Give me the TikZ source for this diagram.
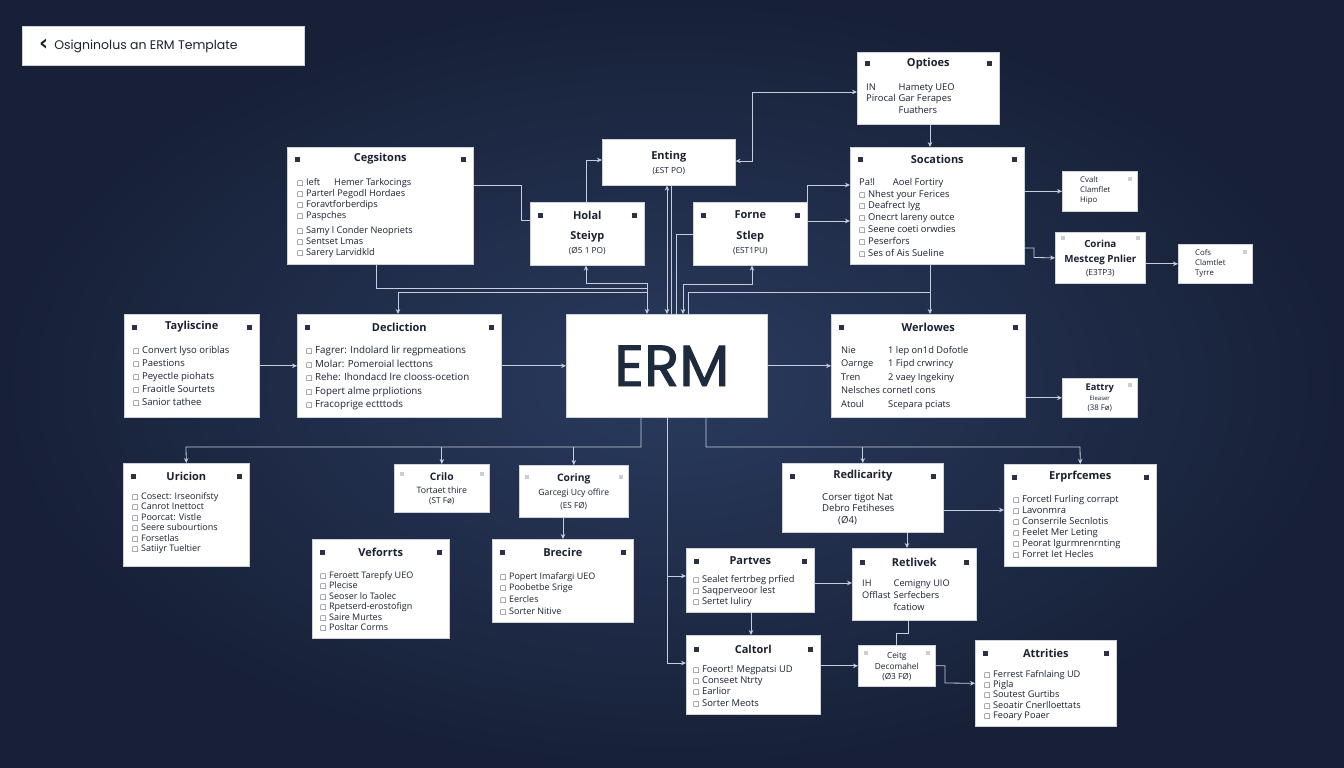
\documentclass[tikz,border=0pt]{standalone}
\usepackage{fontspec}
\setmainfont{Open Sans}
\newfontfamily\hdfont{Poppins}
\newfontfamily\ermfont[FakeBold=1.5]{Poppins}
\newfontfamily\symfont{DejaVu Sans}
\usetikzlibrary{arrows.meta,calc}
\definecolor{bgin}{HTML}{2A3B5E}
\definecolor{bgout}{HTML}{172037}
\definecolor{boxline}{HTML}{CDD2DB}
\definecolor{ink}{HTML}{1B2131}
\definecolor{ermink}{HTML}{1E2A3E}
\definecolor{lnc}{HTML}{C6CEDB}
\definecolor{dsqc}{HTML}{2B3142}
\definecolor{lsqc}{HTML}{C9CDD5}
\newcommand\cbx{{\symfont\fontsize{6.8}{6.8}\selectfont □}\hspace{2.5pt}}
\newcommand\mybx[5]{\node[box, minimum width=#4, minimum height=#5] (#1) at (#2,#3) {};}
\newcommand\myttl[3]{\node[ttlst] (#1t) at ($(#1.north)+(0,#2)$) {#3};}
\newcommand\mydsq[2]{\fill[dsqc] ($(#1.north west)+(8,#2-2.5)$) rectangle +(5,5); \fill[dsqc] ($(#1.north east)+(-13,#2-2.5)$) rectangle +(5,5);}
\newcommand\mylsqr[2]{\fill[lsqc] ($(#1.north east)+(-10,#2-2)$) rectangle +(4,4);}
\newcommand\mylsql[2]{\fill[lsqc] ($(#1.north west)+(6,#2-2)$) rectangle +(4,4);}
\newcommand\mylst[6]{\node[lstst, font=\fontsize{#4}{#5}\selectfont] (#1l) at ($(#1.north west)+(#2,#3-5)$) {#6};}
\newcommand\mytxt[5]{\node[font=#4, text=ink, inner sep=0pt] (#1#2) at ($(#1.north)+(0,#3)$) {#5};}
\begin{document}
\begin{tikzpicture}[x=1pt,y=-1pt,
  box/.style={draw=boxline, fill=white, line width=0.6pt, inner sep=0pt, anchor=north west},
  ttlst/.style={font=\fontsize{11}{13}\selectfont\bfseries, text=ink, inner sep=0pt},
  lstst/.style={text=ink, align=left, anchor=north west, inner sep=0pt},
  con/.style={draw=lnc, line width=0.8pt},
  arr/.style={con, -{Stealth[length=5pt,width=4.5pt]}},
  arr2/.style={con, {Stealth[length=5pt,width=4.5pt]}-{Stealth[length=5pt,width=4.5pt]}}]
\useasboundingbox (0,0) rectangle (1344,768);
\shade[inner color=bgin, outer color=bgout] (0,0) rectangle (1344,768);

% header
\mybx{hdr}{22}{26}{282}{39}
\node[font=\hdfont\fontsize{12.5}{14}\selectfont, text=ink, anchor=west, inner sep=0pt] (hdrt) at ($(hdr.west)+(17,0)$) {{\symfont\bfseries\fontsize{22}{22}\selectfont\raisebox{-0.5pt}{‹}}\hspace{6pt}Osigninolus an ERM Template};

% boxes
\mybx{ceg}{287}{147}{186}{117}
\mybx{ent}{602}{139}{133}{46}
\mybx{hol}{530}{202}{114}{63}
\mybx{frn}{693}{202}{114}{63}
\mybx{opt}{857}{52}{142}{72}
\mybx{soc}{850}{147}{174}{117}
\mybx{cva}{1062}{171}{75}{40}
\mybx{cor}{1055}{232}{90}{51}
\mybx{cof}{1178}{244}{74}{39}
\mybx{tay}{124}{314}{135}{103}
\mybx{dec}{297}{314}{204}{103}
\mybx{erm}{566}{314}{201}{103}
\mybx{wer}{831}{314}{194}{103}
\mybx{eat}{1062}{378}{75}{39}
\mybx{uri}{123}{463}{126}{103}
\mybx{cri}{394}{464}{95}{48}
\mybx{crg}{519}{465}{109}{52}
\mybx{vef}{312}{539}{137}{99}
\mybx{bre}{492}{539}{141}{83}
\mybx{red}{782}{463}{161}{69}
\mybx{erp}{1004}{464}{152}{102}
\mybx{par}{686}{548}{128}{64}
\mybx{ret}{852}{548}{124}{72}
\mybx{cal}{686}{635}{134}{79}
\mybx{cer}{858}{645}{77}{41}
\mybx{att}{975}{640}{141}{86}

% titled boxes
\myttl{ceg}{12}{Cegsitons}\mydsq{ceg}{12}
\mylst{ceg}{10}{36}{9.2}{11}{\cbx Ieft\hspace{14pt}Hemer Tarkocings\\ \cbx Parterl Pegodl Hordaes\\ \cbx Foravtforberdips\\ \cbx Paspches\\[4pt] \cbx Samy l Conder Neopriets\\ \cbx Sentset Lmas\\ \cbx Sarery Larvidkld}

\myttl{opt}{12}{Optioes}\mydsq{opt}{12}
\mylst{opt}{9}{35}{9.4}{11.5}{\begin{tabular}{@{}l@{\hspace{3pt}}l@{}}IN & Hamety UEO\\ Pirocal & Gar Ferapes\\ & Fuathers\end{tabular}}

\myttl{soc}{12}{Socations}\mydsq{soc}{12}
\mylst{soc}{9}{36}{9.4}{11.8}{Pa!l\hspace{18pt}Aoel Fortiry\\ \cbx Nhest your Ferices\\ \cbx Deafrect Iyg\\ \cbx Onecrt lareny outce\\ \cbx Seene coeti orwdies\\ \cbx Peserfors\\ \cbx Ses of Ais Sueline}

\myttl{hol}{13}{Holal}\mydsq{hol}{13}
\mytxt{hol}{a}{35}{\fontsize{11}{13}\selectfont\bfseries}{Steiyp}
\mytxt{hol}{b}{49}{\fontsize{8.3}{10}\selectfont}{(Ø5 1 PO)}

\myttl{frn}{13}{Forne}\mydsq{frn}{13}
\mytxt{frn}{a}{35}{\fontsize{11}{13}\selectfont\bfseries}{Stlep}
\mytxt{frn}{b}{49}{\fontsize{8.3}{10}\selectfont}{(EST1PU)}

\mytxt{ent}{a}{18}{\fontsize{11}{13}\selectfont\bfseries}{Enting}
\mytxt{ent}{b}{32}{\fontsize{8.3}{10}\selectfont}{(£ST PO)}

\mylsqr{cva}{8}
\mylst{cva}{18}{10}{7.8}{10}{Cvalt\\ Clamflet\\ Hipo}

\mylsql{cor}{6}\mylsqr{cor}{6}
\mytxt{cor}{a}{12}{\fontsize{9.8}{11}\selectfont\bfseries}{Corina}
\mytxt{cor}{b}{28}{\fontsize{9.8}{11}\selectfont\bfseries}{Mestceg Pnlier}
\mytxt{cor}{c}{41}{\fontsize{8.3}{10}\selectfont}{(E3TP3)}

\mylsqr{cof}{8}
\mylst{cof}{17}{10}{7.8}{10}{Cofs\\ Clamtlet\\ Tyrre}

\myttl{tay}{13}{Tayliscine}\mydsq{tay}{13}
\mylst{tay}{9}{37}{9.5}{13}{\cbx Convert lyso oriblas\\ \cbx Paestions\\ \cbx Peyectle piohats\\ \cbx Fraoitle Sourtets\\ \cbx Sanior tathee}

\myttl{dec}{13}{Decliction}\mydsq{dec}{13}
\mylst{dec}{9}{37}{9.8}{13.5}{\cbx Fagrer: Indolard lir regpmeations\\ \cbx Molar: Pomeroial lecttons\\ \cbx Rehe: Ihondacd lre clooss-ocetion\\ \cbx Fopert alme prpliotions\\ \cbx Fracoprige ectttods}

\node[font=\ermfont\fontsize{58}{58}\selectfont, text=ermink, inner sep=0pt] (ermt) at ($(erm.center)+(5,0)$) {ERM};

\myttl{wer}{13}{Werlowes}\mydsq{wer}{13}
\mylst{wer}{10}{34.5}{9.3}{13.5}{\begin{tabular}{@{}p{47pt}@{}l@{}}Nie & 1 lep on1d Dofotle\\ Oarnge & 1 Fipd crwrincy\\ Tren & 2 vaey Ingekiny\\ \multicolumn{2}{@{}l@{}}{Nelsches cornetl cons}\\ Atoul & Scepara pciats\end{tabular}}

\mylsqr{eat}{7}
\mytxt{eat}{a}{10}{\fontsize{9.3}{11}\selectfont\bfseries}{Eattry}
\mytxt{eat}{b}{20}{\fontsize{6}{7}\selectfont}{Eleaser}
\mytxt{eat}{c}{30}{\fontsize{7.8}{9}\selectfont}{(38 Fø)}

\myttl{uri}{13}{Uricion}\mydsq{uri}{13}
\mylst{uri}{9}{34}{9}{10.5}{\cbx Cosect: Irseonifsty\\ \cbx Canrot Inettoct\\ \cbx Poorcat: Vistle\\ \cbx Seere subourtions\\ \cbx Forsetlas\\ \cbx Satiiyr Tueltier}

\mylsql{cri}{10}\mylsqr{cri}{10}
\mytxt{cri}{a}{13}{\fontsize{10.3}{12}\selectfont\bfseries}{Crilo}
\mytxt{cri}{b}{26}{\fontsize{8.8}{10}\selectfont}{Tortaet thire}
\mytxt{cri}{c}{37}{\fontsize{8.2}{10}\selectfont}{(ST Fø)}

\mylsql{crg}{12}\mylsqr{crg}{12}
\mytxt{crg}{a}{14}{\fontsize{10.3}{12}\selectfont\bfseries}{Coring}
\mytxt{crg}{b}{28}{\fontsize{8.6}{10}\selectfont}{Garcegi Ucy offire}
\mytxt{crg}{c}{41}{\fontsize{8.2}{10}\selectfont}{(ES FØ)}

\myttl{vef}{13}{Veforrts}\mydsq{vef}{13}
\mylst{vef}{8}{37}{9}{10.5}{\cbx Feroett Tarepfy UEO\\ \cbx Plecise\\ \cbx Seoser lo Taolec\\ \cbx Rpetserd-erostofign\\ \cbx Saire Murtes\\ \cbx Posltar Corms}

\myttl{bre}{13}{Brecire}\mydsq{bre}{13}
\mylst{bre}{8}{38}{9}{11.7}{\cbx Popert Imafargi UEO\\ \cbx Poobetbe Srige\\ \cbx Eercles\\ \cbx Sorter Nitive}

\myttl{red}{13}{Redlicarity}\mydsq{red}{13}
\mylst{red}{40}{35}{9.6}{11.5}{Corser tigot Nat\\ Debro Fetiheses\\ \hspace{16pt}(Ø4)}

\myttl{erp}{13}{Erprfcemes}\mydsq{erp}{13}
\mylst{erp}{9}{36}{9.4}{11}{\cbx Forcetl Furling corrapt\\ \cbx Lavonmra\\ \cbx Conserrile Secnlotis\\ \cbx Feelet Mer Leting\\ \cbx Peorat Igurmrenrnting\\ \cbx Forret Iet Hecles}

\myttl{par}{13}{Partves}\mydsq{par}{13}
\mylst{par}{7}{32}{9.3}{11}{\cbx Sealet fertrbeg prfied\\ \cbx Saqperveoor lest\\ \cbx Sertet Iuliry}

\myttl{ret}{14}{Retlivek}\mydsq{ret}{14}
\mylst{ret}{10}{35}{9.2}{12}{\begin{tabular}{@{}l@{\hspace{3pt}}l@{}}IH & Cemigny UIO\\ Offlast & Serfecbers\\ & fcatiow\end{tabular}}

\myttl{cal}{14}{Caltorl}\mydsq{cal}{14}
\mylst{cal}{7}{35}{9.4}{11.3}{\cbx Foeort! Megpatsi UD\\ \cbx Conseet Ntrty\\ \cbx Earlior\\ \cbx Sorter Meots}

\mylsql{cer}{8}\mylsqr{cer}{8}
\mytxt{cer}{a}{11}{\fontsize{8.3}{10}\selectfont}{Ceitg}
\mytxt{cer}{b}{21}{\fontsize{8.3}{10}\selectfont}{Decomahel}
\mytxt{cer}{c}{32}{\fontsize{8.3}{10}\selectfont}{(Ø3 FØ)}

\myttl{att}{13}{Attrities}\mydsq{att}{13}
\mylst{att}{9}{35}{9.2}{10.3}{\cbx Ferrest Fafnlaing UD\\ \cbx Pigla\\ \cbx Soutest Gurtibs\\ \cbx Seoatir Cnerlloettats\\ \cbx Feoary Poaer}

% connectors, upper part
\draw[con] (ceg.east |- 0,185) -| (521,220) -- (hol.west |- 0,220);
\draw[arr] (hol.north -| 586,0) |- (ent.west |- 0,160);
\draw[arr2] (ent.east |- 0,161) -| (752,92) -- (opt.west |- 0,92);
\draw[arr2] (ent.south -| 667,0) -- (erm.north -| 667,0);
\draw[con] (ent.south -| 671,0) -- (erm.north -| 671,0);
\draw[arr2] (hol.south -| 586,0) |- (647,283) -- (erm.north -| 647,0);
\draw[con] (ceg.south -| 376,0) |- (647,288);
\coordinate (jA) at (647,292);
\draw[arr] (jA) -| (dec.north -| 398,0);
\draw[con] (frn.west |- 0,234) -| (erm.north -| 676,0);
\draw[arr2] (frn.south -| 752,0) |- (683,284) -- (erm.north -| 683,0);
\draw[con] (erm.north -| 688,0) |- (930,292);
\draw[arr] (soc.south -| 930,0) -- (wer.north -| 930,0);
\draw[arr] (frn.east |- 0,221) -- (soc.west |- 0,221);
\draw[arr] (frn.north -| 807,0) |- (soc.west |- 0,185);
\draw[arr] (opt.south -| 930,0) -- (soc.north -| 930,0);
\draw[arr] (soc.east |- cva.west) -- (cva.west);
\draw[arr] (soc.east |- 0,248) -| (1034,257.5) -- (cor.west);
\draw[arr] (cor.east |- cof.west) -- (cof.west);
\draw[arr] (tay.east) -- (dec.west);
\draw[arr] (dec.east) -- (erm.west);
\draw[arr] (erm.east) -- (wer.west);
\draw[arr] (wer.east |- eat.west) -- (eat.west);

% connectors, lower part
\draw[arr] (erm.south -| 641,0) |- (186,447) -- (uri.north);
\draw[arr] (cri.north |- 0,447) -- (cri.north);
\draw[arr] (crg.north |- 0,447) -- (crg.north);
\draw[arr] (erm.south -| 667,0) |- (par.west |- 0,576);
\draw[arr] (erm.south -| 667,0) |- (cal.west |- 0,663);
\draw[arr] (erm.south -| 706,0) |- (1080,447) -- (erp.north);
\draw[arr] (red.north |- 0,447) -- (red.north);
\draw[arr] (red.south -| 907,0) -- (ret.north -| 907,0);
\draw[arr] (red.east |- 0,510) -- (erp.west |- 0,510);
\draw[arr] (par.east |- 0,583) -- (ret.west |- 0,583);
\draw[arr] (par.south -| 751,0) -- (cal.north -| 751,0);
\draw[con] (ret.south -| 908,0) |- (cer.north |- 0,633) -- (cer.north);
\draw[arr] (cal.east |- cer.west) -- (cer.west);
\draw[arr] (cer.east) -| (945,683) -- (att.west);
\draw[arr] (crg.south -| 563,0) -- (bre.north -| 563,0);
\end{tikzpicture}
\end{document}
